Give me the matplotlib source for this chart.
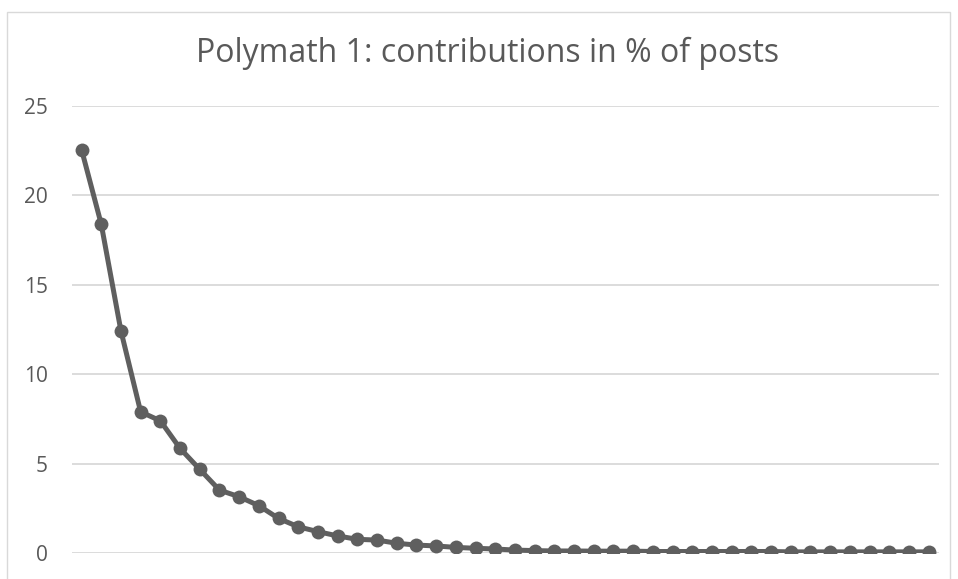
import matplotlib
matplotlib.use('Agg')
import matplotlib.pyplot as plt
from matplotlib.patches import Rectangle

# share of posts per contributor, ranked (Polymath 1)
contrib_pct = [22.55, 18.38, 12.42, 7.90, 7.40, 5.86, 4.69, 3.53, 3.16, 2.66,
               1.95, 1.48, 1.21, 0.97, 0.78, 0.74, 0.56, 0.46, 0.41, 0.33,
               0.28, 0.24, 0.18, 0.15, 0.13, 0.13, 0.12, 0.12, 0.12, 0.10,
               0.10, 0.10, 0.10, 0.10, 0.10, 0.10, 0.08, 0.08, 0.08, 0.08,
               0.08, 0.08, 0.08, 0.08]
y_ticks = [0, 5, 10, 15, 20, 25]
title = 'Polymath 1: contributions in % of posts'

grey = '#595959'
line_col = '#5f5f5f'
grid_col = '#d9d9d9'

plt.rcParams['font.family'] = ['Open Sans', 'DejaVu Sans']

fig = plt.figure(figsize=(9.58, 5.79), dpi=100)
fig.patches.append(Rectangle((7 / 958, -0.05), 943 / 958, 1 - 12 / 579 + 0.05,
                             transform=fig.transFigure, fill=False,
                             edgecolor='#d9d9d9', linewidth=1.0))

ax = fig.add_axes([71.7 / 958, 1 - 553.3 / 579, (938.5 - 71.7) / 958, (553.3 - 105.7) / 579])
x = list(range(len(contrib_pct)))
ax.plot(x, contrib_pct, color=line_col, linewidth=3.6, marker='o',
        markersize=10, markeredgewidth=0, solid_capstyle='round', zorder=3)

ax.set_xlim(-0.5, len(contrib_pct) - 0.5)
ax.set_ylim(0, 25)
ax.set_yticks(y_ticks)
ax.set_yticklabels([str(t) for t in y_ticks], fontsize=15, color=grey)
ax.set_xticks([])
ax.tick_params(axis='y', length=0, pad=17)
ax.grid(axis='y', color=grid_col, linewidth=1.3, zorder=0)
ax.set_axisbelow(True)
for s in ax.spines.values():
    s.set_visible(False)
ax.patch.set_alpha(0)

fig.text(487.5 / 958, 1 - 62 / 579, title, ha='center', va='baseline',
         fontsize=23, color=grey)

fig.savefig('out.png', dpi=100)
